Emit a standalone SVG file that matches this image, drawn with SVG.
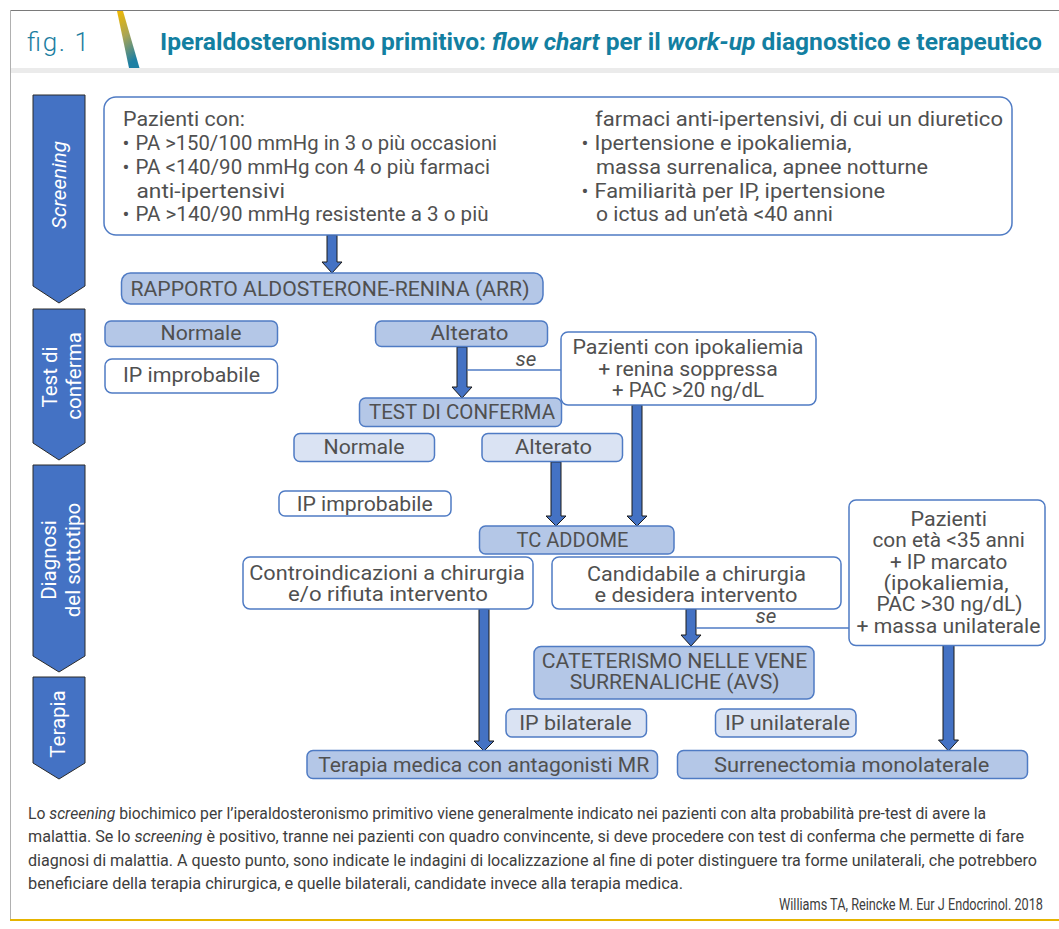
<svg xmlns="http://www.w3.org/2000/svg" width="1059" height="929" viewBox="0 0 1059 929">
<defs>
<linearGradient id="slash" x1="0" y1="0" x2="0.3" y2="1">
<stop offset="0" stop-color="#f2b900"/>
<stop offset="0.5" stop-color="#a9a555"/>
<stop offset="1" stop-color="#1e7fa3"/>
</linearGradient>
<style>
.t{font-family:Roboto,"Liberation Sans",sans-serif;font-size:20.5px;fill:#505050}
.c{text-anchor:middle}
.i{font-style:italic}
.bd{fill:#b4c7e7;stroke:#4f7bc4;stroke-width:1.5}
.bl{fill:#dae3f3;stroke:#4f7bc4;stroke-width:1.5}
.bw{fill:#fff;stroke:#4f7bc4;stroke-width:1.5}
.ar{fill:#4472c4;stroke:#1a1a1a;stroke-width:1}
.ln{fill:none;stroke:#4f7bc4;stroke-width:1.5}
.chev{fill:#4472c4;stroke:#2a2a2a;stroke-width:1}
.lab{font-family:Roboto,"Liberation Sans",sans-serif;font-size:20.5px;fill:#fff;text-anchor:middle}
.cap{font-family:Roboto,"Liberation Sans",sans-serif;font-size:16px;fill:#3d3d3d}
</style>
</defs>
<rect width="1059" height="929" fill="#fff"/>
<g id="frame">
<line x1="10" y1="10.5" x2="1059" y2="10.5" stroke="#7a7a7a" stroke-width="1.2"/>
<line x1="10.5" y1="10" x2="10.5" y2="920" stroke="#b0b0b0" stroke-width="1"/>
<rect x="11" y="68" width="1048" height="5" fill="#ebebeb"/>
<line x1="10" y1="920" x2="1059" y2="920" stroke="#e6b400" stroke-width="2"/>
<polygon points="117,11 123,11 139.5,68 129,68" fill="url(#slash)"/>
<text x="27" y="51" font-family="Roboto,'Liberation Sans',sans-serif" font-weight="300" font-size="26" fill="#1c7ea1" textLength="62" lengthAdjust="spacing">fig. 1</text>
<text x="160" y="50" font-family="Roboto,'Liberation Sans',sans-serif" font-weight="700" font-size="24.5" fill="#137fa1" textLength="882" lengthAdjust="spacingAndGlyphs">Iperaldosteronismo primitivo: <tspan font-style="italic">flow chart</tspan> per il <tspan font-style="italic">work-up</tspan> diagnostico e terapeutico</text>
</g>
<g id="stage-screening">
<polygon class="chev" points="33,95 85,95 85,286 59,303 33,286"/>
<text class="lab i" transform="translate(66,185) rotate(-90)">Screening</text>
</g>
<g id="stage-test">
<polygon class="chev" points="33,309 85,309 85,443 59,460 33,443"/>
<text class="lab" transform="translate(57,377) rotate(-90)">Test di</text>
<text class="lab" transform="translate(81,376) rotate(-90)">conferma</text>
</g>
<g id="stage-diagnosi">
<polygon class="chev" points="33,465 85,465 85,656 59,672 33,656"/>
<text class="lab" transform="translate(56,560) rotate(-90)">Diagnosi</text>
<text class="lab" transform="translate(80,560) rotate(-90)">del sottotipo</text>
</g>
<g id="stage-terapia">
<polygon class="chev" points="33,677 85,677 85,763 59,779 33,763"/>
<text class="lab" transform="translate(65,724) rotate(-90)">Terapia</text>
</g>
<g id="connectors">
<polygon class="ar" points="327,235 337,235 337,262 342,262 332,273 322,262 327,262"/>
<polygon class="ar" points="457,347 467,347 467,387 472,387 462,398 452,387 457,387"/>
<polygon class="ar" points="551,462 561,462 561,516 566,516 556,526 546,516 551,516"/>
<polygon class="ar" points="632,405 642,405 642,516 647,516 637,526 627,516 632,516"/>
<polygon class="ar" points="479,609 489,609 489,741 494,741 484,751 474,741 479,741"/>
<polygon class="ar" points="686,609 696,609 696,635 701,635 691,646 681,635 686,635"/>
<polygon class="ar" points="943,645 954,645 954,740 958.5,740 948.5,751 938.5,740 943,740"/>
<line class="ln" x1="467" y1="370" x2="561" y2="370"/>
<line class="ln" x1="696" y1="628" x2="849" y2="628"/>
<text class="t c i" x="526" y="366">se</text>
<text class="t c i" x="766" y="623">se</text>
</g>
<g id="screening-box">
<rect class="bw" x="104" y="97" width="908" height="138" rx="12"/>
<text class="t" x="123" y="126" textLength="122" lengthAdjust="spacingAndGlyphs">Pazienti con:</text>
<text class="t" x="122.5" y="150">•</text><text class="t" x="135.5" y="150" textLength="361.5" lengthAdjust="spacingAndGlyphs">PA &gt;150/100 mmHg in 3 o più occasioni</text>
<text class="t" x="122.5" y="173.5">•</text><text class="t" x="135.5" y="173.5" textLength="354.5" lengthAdjust="spacingAndGlyphs">PA &lt;140/90 mmHg con 4 o più farmaci</text>
<text class="t" x="136.5" y="197.5" textLength="148.5" lengthAdjust="spacingAndGlyphs">anti-ipertensivi</text>
<text class="t" x="122.5" y="221">•</text><text class="t" x="135.5" y="221" textLength="353" lengthAdjust="spacingAndGlyphs">PA &gt;140/90 mmHg resistente a 3 o più</text>
<text class="t" x="595" y="126" textLength="408" lengthAdjust="spacingAndGlyphs">farmaci anti-ipertensivi, di cui un diuretico</text>
<text class="t" x="581.5" y="150">•</text><text class="t" x="594.5" y="150" textLength="257" lengthAdjust="spacingAndGlyphs">Ipertensione e ipokaliemia,</text>
<text class="t" x="596" y="173.5" textLength="332" lengthAdjust="spacingAndGlyphs">massa surrenalica, apnee notturne</text>
<text class="t" x="581.5" y="197.5">•</text><text class="t" x="594.5" y="197.5" textLength="290.5" lengthAdjust="spacingAndGlyphs">Familiarità per IP, ipertensione</text>
<text class="t" x="596" y="221" textLength="237" lengthAdjust="spacingAndGlyphs">o ictus ad un’età &lt;40 anni</text>
</g>
<g id="arr">
<rect class="bd" x="121.5" y="273" width="421.5" height="31" rx="9"/>
<text class="t c" x="330" y="296" textLength="399" lengthAdjust="spacingAndGlyphs">RAPPORTO ALDOSTERONE-RENINA (ARR)</text>
</g>
<g id="normale-1">
<rect class="bd" x="105" y="321" width="172.5" height="25.5" rx="6"/>
<text class="t c" x="201" y="339.5" textLength="81" lengthAdjust="spacingAndGlyphs">Normale</text>
</g>
<g id="ip-improbabile-1">
<rect class="bw" x="105" y="359" width="172.5" height="34" rx="7"/>
<text class="t c" x="191.5" y="382" textLength="137" lengthAdjust="spacingAndGlyphs">IP improbabile</text>
</g>
<g id="alterato-1">
<rect class="bd" x="375.5" y="321" width="172" height="25.5" rx="6"/>
<text class="t c" x="469.5" y="339.5" textLength="78" lengthAdjust="spacingAndGlyphs">Alterato</text>
</g>
<g id="ipokaliemia">
<rect class="bw" x="561" y="332" width="255" height="73" rx="7"/>
<text class="t c" x="688" y="354" textLength="231" lengthAdjust="spacingAndGlyphs">Pazienti con ipokaliemia</text>
<text class="t c" x="688" y="376" textLength="179.5" lengthAdjust="spacingAndGlyphs">+ renina soppressa</text>
<text class="t c" x="688" y="397" textLength="152" lengthAdjust="spacingAndGlyphs">+ PAC &gt;20 ng/dL</text>
</g>
<g id="test-conferma">
<rect class="bd" x="359.5" y="398" width="202" height="28.5" rx="6"/>
<text class="t c" x="462" y="418.5" textLength="186" lengthAdjust="spacingAndGlyphs">TEST DI CONFERMA</text>
</g>
<g id="normale-2">
<rect class="bl" x="294" y="433.5" width="140.5" height="28" rx="6"/>
<text class="t c" x="364" y="454" textLength="81" lengthAdjust="spacingAndGlyphs">Normale</text>
</g>
<g id="alterato-2">
<rect class="bl" x="482" y="433.5" width="140.5" height="28" rx="6"/>
<text class="t c" x="553.5" y="454" textLength="77" lengthAdjust="spacingAndGlyphs">Alterato</text>
</g>
<g id="ip-improbabile-2">
<rect class="bw" x="279" y="491" width="172" height="25" rx="6"/>
<text class="t c" x="364.7" y="510.5" textLength="136" lengthAdjust="spacingAndGlyphs">IP improbabile</text>
</g>
<g id="tc-addome">
<rect class="bd" x="479.5" y="526" width="194.5" height="28" rx="6"/>
<text class="t c" x="572.5" y="546.5" textLength="112" lengthAdjust="spacingAndGlyphs">TC ADDOME</text>
</g>
<g id="controindicazioni">
<rect class="bw" x="243" y="557" width="290" height="52" rx="7"/>
<text class="t c" x="387" y="580" textLength="275.5" lengthAdjust="spacingAndGlyphs">Controindicazioni a chirurgia</text>
<text class="t c" x="388" y="601" textLength="200" lengthAdjust="spacingAndGlyphs">e/o rifiuta intervento</text>
</g>
<g id="candidabile">
<rect class="bw" x="552" y="557" width="289" height="52" rx="7"/>
<text class="t c" x="696.4" y="580.5" textLength="219" lengthAdjust="spacingAndGlyphs">Candidabile a chirurgia</text>
<text class="t c" x="696" y="601.5" textLength="203" lengthAdjust="spacingAndGlyphs">e desidera intervento</text>
</g>
<g id="pazienti-35">
<rect class="bw" x="849" y="500" width="196" height="145.5" rx="7"/>
<text class="t c" x="948.8" y="526" textLength="76.5" lengthAdjust="spacingAndGlyphs">Pazienti</text>
<text class="t c" x="948.7" y="547.3" textLength="152.5" lengthAdjust="spacingAndGlyphs">con età &lt;35 anni</text>
<text class="t c" x="948.7" y="568.7" textLength="117.5" lengthAdjust="spacingAndGlyphs">+ IP marcato</text>
<text class="t c" x="946" y="590" textLength="125" lengthAdjust="spacingAndGlyphs">(ipokaliemia,</text>
<text class="t c" x="949.5" y="611" textLength="146" lengthAdjust="spacingAndGlyphs">PAC &gt;30 ng/dL)</text>
<text class="t c" x="948.5" y="632.7" textLength="184" lengthAdjust="spacingAndGlyphs">+ massa unilaterale</text>
</g>
<g id="avs">
<rect class="bd" x="534" y="646.5" width="280" height="52.5" rx="7"/>
<text class="t c" x="674.5" y="668" textLength="265.5" lengthAdjust="spacingAndGlyphs">CATETERISMO NELLE VENE</text>
<text class="t c" x="674.7" y="689" textLength="210" lengthAdjust="spacingAndGlyphs">SURRENALICHE (AVS)</text>
</g>
<g id="ip-bilaterale">
<rect class="bl" x="506" y="709" width="140.5" height="28" rx="6"/>
<text class="t c" x="575.5" y="729.5" textLength="112.5" lengthAdjust="spacingAndGlyphs">IP bilaterale</text>
</g>
<g id="ip-unilaterale">
<rect class="bl" x="715.5" y="709" width="140.5" height="28" rx="6"/>
<text class="t c" x="787.4" y="729.5" textLength="125" lengthAdjust="spacingAndGlyphs">IP unilaterale</text>
</g>
<g id="terapia-medica">
<rect class="bd" x="307" y="750.5" width="350.5" height="28" rx="6"/>
<text class="t c" x="483.8" y="771.5" textLength="331" lengthAdjust="spacingAndGlyphs">Terapia medica con antagonisti MR</text>
</g>
<g id="surrenectomia">
<rect class="bd" x="677.5" y="750.5" width="350" height="28" rx="6"/>
<text class="t c" x="851.7" y="771.5" textLength="275.5" lengthAdjust="spacingAndGlyphs">Surrenectomia monolaterale</text>
</g>
<g id="caption">
<text class="cap" x="28" y="818.5" textLength="958" lengthAdjust="spacingAndGlyphs">Lo <tspan font-style="italic">screening</tspan> biochimico per l’iperaldosteronismo primitivo viene generalmente indicato nei pazienti con alta probabilità pre-test di avere la</text>
<text class="cap" x="28" y="842" textLength="996" lengthAdjust="spacingAndGlyphs">malattia. Se lo <tspan font-style="italic">screening</tspan> è positivo, tranne nei pazienti con quadro convincente, si deve procedere con test di conferma che permette di fare</text>
<text class="cap" x="28" y="865.5" textLength="1009" lengthAdjust="spacingAndGlyphs">diagnosi di malattia. A questo punto, sono indicate le indagini di localizzazione al fine di poter distinguere tra forme unilaterali, che potrebbero</text>
<text class="cap" x="28" y="889" textLength="655" lengthAdjust="spacingAndGlyphs">beneficiare della terapia chirurgica, e quelle bilaterali, candidate invece alla terapia medica.</text>
<text class="cap" x="779" y="910" textLength="264" lengthAdjust="spacingAndGlyphs">Williams TA, Reincke M. Eur J Endocrinol. 2018</text>
</g>
</svg>
